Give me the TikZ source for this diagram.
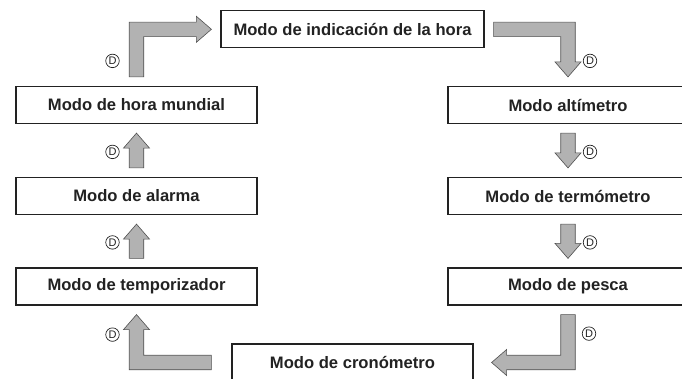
\documentclass[tikz,border=0pt]{standalone}
\usepackage{fontspec}
\setmainfont{Liberation Sans}
\usetikzlibrary{calc}
\definecolor{arrowfill}{HTML}{B2B2B2}
\definecolor{arrowline}{HTML}{505050}
\definecolor{boxline}{HTML}{222222}
\begin{document}
\begin{tikzpicture}[x=1pt,y=-1pt,
  modebox/.style={draw=boxline, text=boxline, line width=1.2pt, fill=white, minimum width=241pt, minimum height=37pt, inner sep=0pt, font=\fontsize{16.6}{18}\selectfont\bfseries},
  fatarrow/.style={fill=arrowfill, draw=arrowline, line width=0.6pt, line join=miter},
  dlab/.style={circle, draw=boxline, text=boxline, line width=0.7pt, inner sep=0pt, minimum size=13.5pt, font=\fontsize{11}{11}\selectfont}]
\def\sw{7.25}
\def\hw{13}
\def\hl{15}
\newcommand\vfat[3]{%
  \filldraw[fatarrow] ($(#1)+(-\sw,0)$) -- ($(#2)+(-\sw,#3)$) -- ($(#2)+(-\hw,#3)$) -- (#2)
    -- ($(#2)+(\hw,#3)$) -- ($(#2)+(\sw,#3)$) -- ($(#1)+(\sw,0)$) -- cycle;}
\useasboundingbox (0,0) rectangle (682,378);
\clip (0,0) rectangle (682,378);
% boxes
\node[modebox, minimum width=263pt] (hora) at (352.5,29.3) {Modo de indicación de la hora};
\node[modebox] (mundial) at (136.5,105) {Modo de hora mundial};
\node[modebox] (alarma) at (136.5,196) {Modo de alarma};
\node[modebox] (tempo) at (136.5,286.5) {Modo de temporizador};
\node[modebox] (crono) at (352.5,362.5) {Modo de cronómetro};
\node[modebox, minimum width=240pt] (alti) at (568,105) {Modo altímetro};
\node[modebox, minimum width=240pt] (termo) at (568,196) {Modo de termómetro};
\node[modebox, minimum width=240pt] (pesca) at (568,286.5) {Modo de pesca};
% arrow 1: mundial -> hora
\coordinate (s1) at ($(mundial.north)+(0,-9)$);
\coordinate (t1) at ($(hora.west)+(-9,0)$);
\coordinate (c1) at (s1 |- t1);
\filldraw[fatarrow] ($(s1)+(-\sw,0)$) -- ($(c1)+(-\sw,-\sw)$) -- ($(t1)+(-\hl,-\sw)$) -- ($(t1)+(-\hl,-\hw)$) -- (t1)
  -- ($(t1)+(-\hl,\hw)$) -- ($(t1)+(-\hl,\sw)$) -- ($(c1)+(\sw,\sw)$) -- ($(s1)+(\sw,0)$) -- cycle;
% arrow 2: hora -> alti
\coordinate (s2) at ($(hora.east)+(9,0)$);
\coordinate (t2) at ($(alti.north)+(0,-9)$);
\coordinate (c2) at (t2 |- s2);
\filldraw[fatarrow] ($(s2)+(0,-\sw)$) -- ($(c2)+(\sw,-\sw)$) -- ($(t2)+(\sw,-\hl)$) -- ($(t2)+(\hw,-\hl)$) -- (t2)
  -- ($(t2)+(-\hw,-\hl)$) -- ($(t2)+(-\sw,-\hl)$) -- ($(c2)+(-\sw,\sw)$) -- ($(s2)+(0,\sw)$) -- cycle;
% arrows 3,4: alti -> termo -> pesca
\coordinate (s3) at ($(alti.south)+(0,9)$);
\coordinate (t3) at ($(termo.north)+(0,-9)$);
\vfat{s3}{t3}{-\hl}
\coordinate (s4) at ($(termo.south)+(0,9)$);
\coordinate (t4) at ($(pesca.north)+(0,-9)$);
\vfat{s4}{t4}{-\hl}
% arrow 5: pesca -> crono
\coordinate (s5) at ($(pesca.south)+(0,9)$);
\coordinate (t5) at ($(crono.east)+(18,0)$);
\coordinate (c5) at (s5 |- t5);
\filldraw[fatarrow] ($(s5)+(-\sw,0)$) -- ($(c5)+(-\sw,-\sw)$) -- ($(t5)+(\hl,-\sw)$) -- ($(t5)+(\hl,-\hw)$) -- (t5)
  -- ($(t5)+(\hl,\hw)$) -- ($(t5)+(\hl,\sw)$) -- ($(c5)+(\sw,\sw)$) -- ($(s5)+(\sw,0)$) -- cycle;
% arrow 6: crono -> tempo
\coordinate (s6) at ($(crono.west)+(-20,0)$);
\coordinate (t6) at ($(tempo.south)+(0,9)$);
\coordinate (c6) at (t6 |- s6);
\filldraw[fatarrow] ($(s6)+(0,-\sw)$) -- ($(c6)+(\sw,-\sw)$) -- ($(t6)+(\sw,\hl)$) -- ($(t6)+(\hw,\hl)$) -- (t6)
  -- ($(t6)+(-\hw,\hl)$) -- ($(t6)+(-\sw,\hl)$) -- ($(c6)+(-\sw,\sw)$) -- ($(s6)+(0,\sw)$) -- cycle;
% arrows 7,8: tempo -> alarma -> mundial
\coordinate (s7) at ($(tempo.north)+(0,-9)$);
\coordinate (t7) at ($(alarma.south)+(0,9)$);
\vfat{s7}{t7}{\hl}
\coordinate (s8) at ($(alarma.north)+(0,-9)$);
\coordinate (t8) at ($(mundial.south)+(0,9)$);
\vfat{s8}{t8}{\hl}
% D labels
\node[dlab] (d1) at ($(s1)+(-24,-16)$) {D};
\node[dlab] (d2) at ($(t2)+(22,-16)$) {D};
\node[dlab] (d3) at ($(t3)+(22,-16)$) {D};
\node[dlab] (d4) at ($(t4)+(22,-16)$) {D};
\node[dlab] (d5) at ($(s5)+(21,19)$) {D};
\node[dlab] (d6) at ($(t6)+(-24,20)$) {D};
\node[dlab] (d7) at ($(s7)+(-24,-16)$) {D};
\node[dlab] (d8) at ($(s8)+(-24,-16)$) {D};
\end{tikzpicture}
\end{document}
